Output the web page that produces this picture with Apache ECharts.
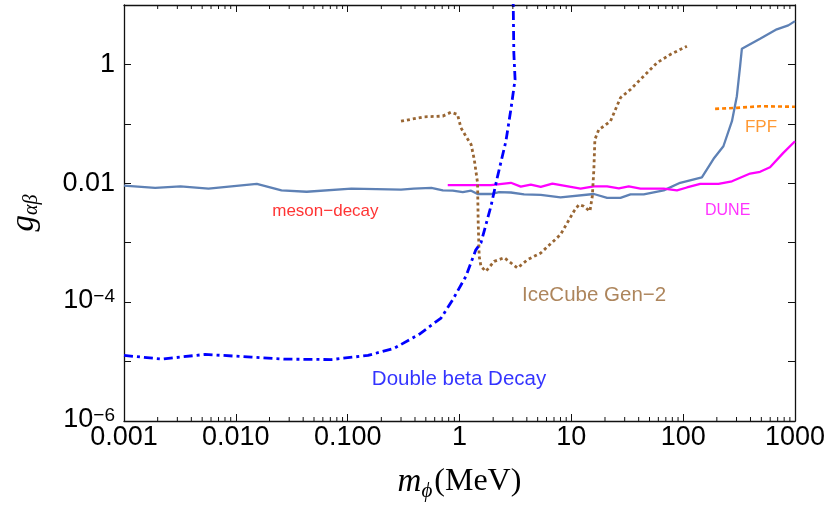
<!DOCTYPE html>
<html><head><meta charset="utf-8">
<script src="https://cdn.jsdelivr.net/npm/echarts@6/dist/echarts.min.js"></script>
<style>html,body{margin:0;padding:0;background:#fff}#c{width:830px;height:511px}</style>
</head><body><div id="c"></div>
<script>
// ---- data (x = m_phi in MeV, y = g_ab) ----
const mesonDecay = [[0.001,0.0091],[0.0019,0.0084],[0.0032,0.0089],[0.0057,0.0081],[0.0154,0.0098],[0.0256,0.0076],[0.043,0.0072],[0.108,0.0081],[0.30,0.0078],[0.39,0.0081],[0.56,0.0084],[0.71,0.0076],[0.87,0.0075],[1.07,0.0071],[1.27,0.0075],[1.45,0.0066],[1.91,0.0066],[2.26,0.0071],[2.88,0.0070],[3.78,0.0065],[5.33,0.0064],[8.0,0.0058],[15.9,0.0066],[20.9,0.0057],[27.5,0.0057],[33.8,0.0065],[44.4,0.0065],[67,0.0076],[94,0.0102],[147,0.0126],[187,0.0258],[229,0.042],[273,0.111],[302,0.292],[323,0.94],[335,1.84],[487,2.71],[687,3.89],[871,4.54],[1000,5.36]];
const dune = [[0.785,0.0093],[1.91,0.0093],[2.88,0.0102],[3.53,0.0088],[4.34,0.0095],[5.33,0.0087],[6.77,0.0099],[12.1,0.0081],[15.9,0.0089],[20.9,0.0089],[26.6,0.0082],[32.6,0.0089],[41.5,0.0081],[67,0.0081],[88,0.0076],[108,0.0085],[142,0.0098],[207,0.0098],[273,0.0108],[397,0.0146],[487,0.0156],[598,0.0186],[786,0.0325],[1000,0.051]];
const iceCube = [[0.30,0.111],[0.485,0.1315],[0.708,0.135],[0.84,0.157],[0.96,0.144],[1.03,0.086],[1.14,0.062],[1.27,0.045],[1.355,0.0251],[1.45,0.0102],[1.47,0.00215],[1.50,0.00059],[1.555,0.00040],[1.72,0.00033],[2.04,0.000485],[2.51,0.00056],[3.30,0.000375],[4.06,0.000518],[5.33,0.000672],[8.0,0.00137],[10.55,0.00338],[11.7,0.00438],[12.96,0.0041],[14.66,0.00338],[15.4,0.00604],[15.9,0.017],[16.24,0.0545],[17.6,0.080],[19.5,0.091],[22.4,0.111],[27.5,0.275],[33.8,0.379],[44.4,0.635],[58.5,1.07],[76.8,1.47],[108,2.03]];
const doubleBeta = [[0.001,1.27e-5],[0.00218,1.10e-5],[0.0053,1.32e-5],[0.0138,1.19e-5],[0.0274,1.10e-5],[0.0714,1.08e-5],[0.152,1.27e-5],[0.262,1.68e-5],[0.436,2.88e-5],[0.684,5.4e-5],[0.87,1.10e-4],[1.14,2.71e-4],[1.40,7.6e-4],[1.555,9.9e-4],[1.91,0.0041],[2.19,0.0131],[2.60,0.051],[2.88,0.175],[3.14,0.56],[3.06,1.59],[3.02,12]];
const fpf = [[193,0.179],[302,0.186],[487,0.198],[1000,0.194]];

// region labels: text and anchor in data units
const labelTexts = ['meson\u2212decay','DUNE','FPF','IceCube Gen\u22122','Double beta Decay'];
const labelAnchors = [[0.0632,0.00334],[250,0.00347],[497,0.0868],[15.97,1.28e-4],[0.99,5.12e-6]];

// axes
const xTickValues = [0.001,0.01,0.1,1,10,100,1000];
const xTickLabels = ['0.001','0.010','0.100','1','10','100','1000'];
const yTickValues = [1e-6,1e-4,0.01,1];
const yTickLabels = ['{b|10}{s|\u22126}','{b|10}{s|\u22124}','0.01','1'];
const minorMantissas = [2,3,4,5,6,7,8,9];
const minorDecades = [0.001,0.01,0.1,1,10,100];

const X_MIN = 0.001, X_MAX = 1000, Y_MIN = 1e-6, Y_MAX = 10;
const FONT = "'Liberation Sans', Arial, Helvetica, sans-serif";
const SERIF = "'Liberation Serif', 'DejaVu Serif', serif";
const AX = '#111';

function findLabel(vals, labs, v) {
  for (let i = 0; i < vals.length; i++) {
    if (Math.abs(Math.log10(v) - Math.log10(vals[i])) < 1e-6) return labs[i];
  }
  return '';
}

const minorTicks = [];
minorDecades.forEach(d => minorMantissas.forEach(m => minorTicks.push([m * d, Y_MIN])));

const colors = ['#5E81B5', '#FF00FF', '#996633', '#0000FF', '#FF8000'];
const labelColors = ['#FF0000', '#FF00FF', '#FF8000', '#996633', '#0000FF'];
const labelSizes = [17, 16, 17, 20.5, 20.5];

const chart = echarts.init(document.getElementById('c'), null, {renderer: 'canvas'});
const commonX = {type: 'log', logBase: 10, min: X_MIN, max: X_MAX, interval: 1, splitLine: {show: false},
  axisLine: {show: true, lineStyle: {color: AX, width: 1.3}},
  axisTick: {show: true, inside: true, length: 7, lineStyle: {color: AX, width: 1}}};
const commonY = {type: 'log', logBase: 10, min: Y_MIN, max: Y_MAX, interval: 1, splitLine: {show: false},
  axisLine: {show: true, lineStyle: {color: AX, width: 1.3}},
  axisTick: {show: true, inside: true, length: 7, lineStyle: {color: AX, width: 1}}};

chart.setOption({
  animation: false,
  backgroundColor: '#fff',
  grid: {left: 122, right: 35, top: 5, bottom: 90, containLabel: false},
  xAxis: [
    Object.assign({}, commonX, {position: 'bottom',
      axisLabel: {show: true, margin: 3, color: '#000', fontFamily: FONT, fontSize: 27,
        formatter: v => findLabel(xTickValues, xTickLabels, v)},
      name: '{m|m}{p|\u03D5}{u|(MeV)}', nameLocation: 'middle', nameGap: 45,
      nameTextStyle: {rich: {
        m: {fontFamily: SERIF, fontStyle: 'italic', fontSize: 33, lineHeight: 36, verticalAlign: 'top', color: '#000'},
        p: {fontFamily: SERIF, fontStyle: 'italic', fontSize: 21, lineHeight: 21, verticalAlign: 'top', padding: [15, 2, 0, 0], color: '#000'},
        u: {fontFamily: SERIF, fontSize: 32, lineHeight: 36, verticalAlign: 'top', color: '#000'}}}}),
    Object.assign({}, commonX, {position: 'top', axisLabel: {show: false}})
  ],
  yAxis: [
    Object.assign({}, commonY, {position: 'left',
      axisLabel: {show: true, margin: 9, color: '#000', fontFamily: FONT, fontSize: 27,
        formatter: v => findLabel(yTickValues, yTickLabels, v),
        rich: {b: {fontFamily: FONT, fontSize: 27, lineHeight: 30, verticalAlign: 'top', color: '#000'},
               s: {fontFamily: FONT, fontSize: 19, lineHeight: 19, verticalAlign: 'top', color: '#000'}}},
      name: '{g|g}{ab|\u03B1\u03B2}', nameLocation: 'middle', nameGap: 82, nameRotate: 90,
      nameTextStyle: {rich: {
        g: {fontFamily: SERIF, fontStyle: 'italic', fontSize: 33, lineHeight: 34, verticalAlign: 'top', color: '#000'},
        ab: {fontFamily: SERIF, fontStyle: 'italic', fontSize: 20, lineHeight: 20, verticalAlign: 'top', padding: [14, 0, 0, 0], color: '#000'}}}}),
    Object.assign({}, commonY, {position: 'right', axisLabel: {show: false}})
  ],
  series: [
    {name: 'meson-decay', type: 'line', data: mesonDecay, showSymbol: false, symbol: 'none', z: 3,
     lineStyle: {color: colors[0], width: 2.3}},
    {name: 'DUNE', type: 'line', data: dune, showSymbol: false, symbol: 'none', z: 4,
     lineStyle: {color: colors[1], width: 2.3}},
    {name: 'IceCube Gen-2', type: 'line', data: iceCube, showSymbol: false, symbol: 'none', z: 5,
     lineStyle: {color: colors[2], width: 2.8, type: [3, 3], cap: 'butt'}},
    {name: 'Double beta Decay', type: 'line', data: doubleBeta, showSymbol: false, symbol: 'none', z: 6,
     lineStyle: {color: colors[3], width: 2.8, type: [9, 4, 3, 4], cap: 'butt'}},
    {name: 'FPF', type: 'line', data: fpf, showSymbol: false, symbol: 'none', z: 6,
     lineStyle: {color: colors[4], width: 2.6, type: [4, 3], cap: 'butt'}},
    {name: 'labels', type: 'scatter', symbolSize: 0, z: 10, silent: true,
     data: labelTexts.map((t, i) => ({value: labelAnchors[i],
       label: {show: true, position: 'inside', formatter: t, color: labelColors[i], fontFamily: FONT, fontSize: labelSizes[i]}}))},
    {name: 'minorTicks', type: 'custom', data: minorTicks, silent: true, z: 20,
     encode: {x: 0, y: 1},
     renderItem: function (params, api) {
       const x = api.value(0);
       const b = api.coord([x, Y_MIN]);
       const t = api.coord([x, Y_MAX]);
       return {type: 'group', children: [
         {type: 'line', shape: {x1: b[0], y1: b[1], x2: b[0], y2: b[1] - 4}, style: {stroke: AX, lineWidth: 1}},
         {type: 'line', shape: {x1: t[0], y1: t[1], x2: t[0], y2: t[1] + 4}, style: {stroke: AX, lineWidth: 1}}
       ]};
     }}
  ]
});
</script></body></html>
